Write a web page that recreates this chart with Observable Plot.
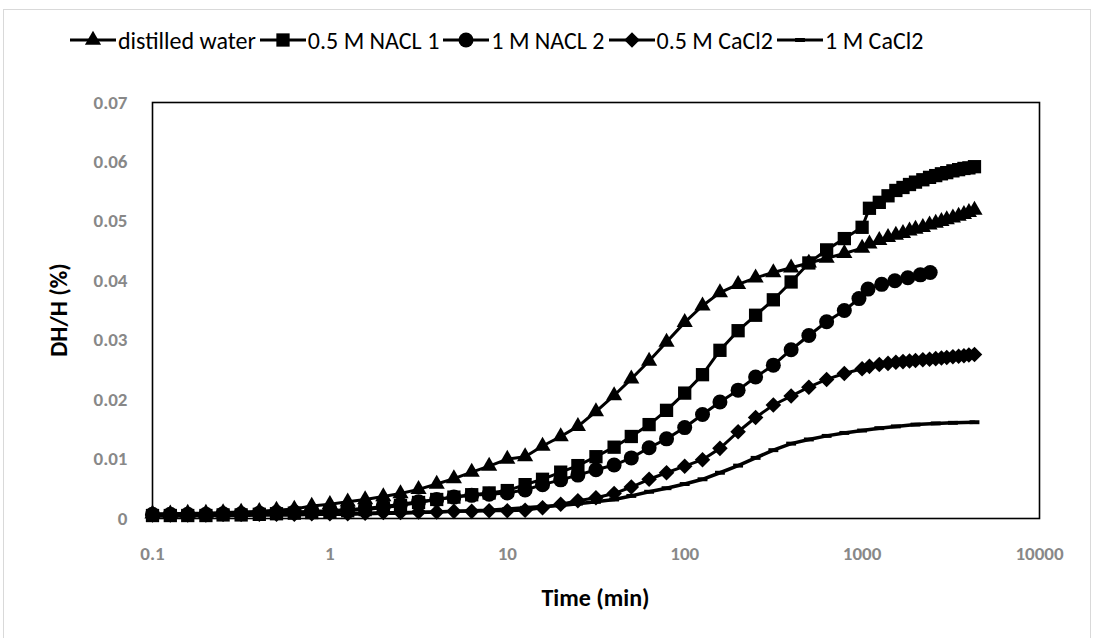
<!DOCTYPE html>
<html>
<head>
<meta charset="utf-8">
<script src="https://cdn.jsdelivr.net/npm/d3@7"></script>
<script src="https://cdn.jsdelivr.net/npm/@observablehq/plot@0.6"></script>
<style>
  body { margin: 0; background: #fff; }
  #wrap { position: relative; width: 1096px; height: 638px; background: #fff; overflow: hidden; font-family: Carlito, Calibri, Lato, sans-serif; }
  #border { position: absolute; left: 3px; top: 9px; width: 1088px; height: 640px; border: 1px solid #d9d9d9; box-sizing: border-box; }
  #legend { position: absolute; top: 26px; left: 70px; height: 28px; display: flex; align-items: center; font-size: 24px; color: #000; white-space: nowrap; }
  #legend .item { display: flex; align-items: center; margin-right: 4px; }
  #legend svg { display: block; margin-right: 2px; }
  #chart { position: absolute; top: 70px; left: 0; }
  #xtitle { position: absolute; top: 583px; left: 152px; width: 887px; text-align: center; font-weight: bold; font-size: 24px; color: #000; }
  #ytitle { position: absolute; left: 58px; top: 310px; transform: translate(-50%, -50%) rotate(-90deg); font-weight: bold; font-size: 24px; color: #000; white-space: nowrap; }
</style>
</head>
<body>
<div id="wrap">
  <div id="border"></div>
  <div id="legend"></div>
  <div id="chart"></div>
  <div id="xtitle">Time (min)</div>
  <div id="ytitle">DH/H (%)</div>
</div>
<script>
// ---- Data ----
const seriesNames = ["distilled water", "0.5 M NACL 1", "1 M NACL 2", "0.5 M CaCl2", "1 M CaCl2"];

const xTicks = [0.1, 1, 10, 100, 1000, 10000];
const xTickLabels = ["0.1", "1", "10", "100", "1000", "10000"];
const yTicks = [0, 0.01, 0.02, 0.03, 0.04, 0.05, 0.06, 0.07];
const yTickLabels = ["0", "0.01", "0.02", "0.03", "0.04", "0.05", "0.06", "0.07"];

const waterTime = [0.1,0.126,0.158,0.2,0.25,0.316,0.4,0.5,0.63,0.79,1,1.26,1.58,2,2.5,3.16,4,5,6.3,7.9,10,12.6,15.8,20,25,31.6,40,50,63,79,100,126,158,200,251,316,398,501,631,794,1000,1100,1250,1400,1550,1700,1850,2000,2200,2400,2600,2800,3000,3250,3500,3750,4000,4300];
const waterDH = [0.0008,0.0008,0.0009,0.0009,0.001,0.0011,0.0012,0.0014,0.0016,0.0021,0.0024,0.0028,0.0032,0.0037,0.0042,0.0049,0.0058,0.0067,0.0078,0.0088,0.01,0.0104,0.0122,0.0138,0.0155,0.018,0.0207,0.0235,0.0265,0.0297,0.033,0.0358,0.038,0.0394,0.0405,0.0414,0.0422,0.043,0.0438,0.0446,0.0455,0.0462,0.0468,0.0473,0.0477,0.048,0.0484,0.0487,0.049,0.0494,0.0497,0.05,0.0503,0.0506,0.0509,0.0512,0.0515,0.0519];

const nacl05Time = [0.1,0.126,0.158,0.2,0.25,0.316,0.4,0.5,0.63,0.79,1,1.26,1.58,2,2.5,3.16,4,5,6.3,7.9,10,12.6,15.8,20,25,31.6,40,50,63,79,100,126,158,200,251,316,398,501,631,794,1000,1100,1250,1400,1550,1700,1850,2000,2200,2400,2600,2800,3000,3250,3500,3750,4000,4300];
const nacl05DH = [0.0005,0.0005,0.0005,0.0005,0.0006,0.0006,0.0007,0.0008,0.0009,0.001,0.0011,0.0013,0.0015,0.0018,0.0022,0.0027,0.0032,0.0036,0.004,0.0043,0.0047,0.0057,0.0066,0.0078,0.0089,0.0104,0.012,0.0138,0.0158,0.0182,0.0211,0.0242,0.0283,0.0316,0.0342,0.0368,0.0398,0.043,0.0452,0.0471,0.049,0.0522,0.0532,0.0543,0.0552,0.0557,0.0562,0.0566,0.057,0.0574,0.0577,0.058,0.0582,0.0585,0.0587,0.0589,0.059,0.0592];

const nacl1Time = [0.1,0.126,0.158,0.2,0.25,0.316,0.4,0.5,0.63,0.79,1,1.26,1.58,2,2.5,3.16,4,5,6.3,7.9,10,12.6,15.8,20,25,31.6,40,50,63,79,100,126,158,200,251,316,398,501,631,794,960,1080,1290,1530,1810,2130,2420];
const nacl1DH = [0.0007,0.0007,0.0007,0.0007,0.0008,0.0008,0.0009,0.001,0.0011,0.0012,0.0013,0.0015,0.0017,0.002,0.0024,0.0028,0.0032,0.0036,0.0039,0.0041,0.0043,0.0048,0.0057,0.0065,0.0073,0.0082,0.009,0.0102,0.0119,0.0134,0.0153,0.0175,0.0196,0.0216,0.0238,0.0258,0.0284,0.0308,0.0331,0.035,0.037,0.0386,0.0394,0.04,0.0405,0.041,0.0414];

const cacl05Time = [0.1,0.126,0.158,0.2,0.25,0.316,0.4,0.5,0.63,0.79,1,1.26,1.58,2,2.5,3.16,4,5,6.3,7.9,10,12.6,15.8,20,25,31.6,40,50,63,79,100,126,158,200,251,316,398,501,631,794,1000,1100,1250,1400,1550,1700,1850,2000,2200,2400,2600,2800,3000,3250,3500,3750,4000,4300];
const cacl05DH = [0.0006,0.0006,0.0006,0.0006,0.0007,0.0007,0.0007,0.0007,0.0007,0.0008,0.0008,0.0008,0.0009,0.001,0.001,0.0011,0.0011,0.0012,0.0012,0.0013,0.0013,0.0014,0.0018,0.0024,0.003,0.0035,0.0042,0.0053,0.0066,0.0077,0.0088,0.0099,0.0118,0.0146,0.017,0.0191,0.0206,0.0221,0.0234,0.0244,0.0252,0.0256,0.0259,0.0261,0.0263,0.0264,0.0265,0.0266,0.0267,0.0268,0.0269,0.027,0.0271,0.0272,0.0273,0.0274,0.0275,0.0276];

const cacl1Time = [0.1,0.126,0.158,0.2,0.25,0.316,0.4,0.5,0.63,0.79,1,1.26,1.58,2,2.5,3.16,4,5,6.3,7.9,10,12.6,15.8,20,25,31.6,40,50,63,79,100,126,158,200,251,316,398,501,631,794,1000,1250,1550,2000,2600,3250,4300];
const cacl1DH = [0.0004,0.0004,0.0004,0.0005,0.0005,0.0005,0.0006,0.0006,0.0006,0.0007,0.0007,0.0007,0.0008,0.0009,0.0009,0.001,0.0011,0.0012,0.0013,0.0014,0.0016,0.0018,0.002,0.0022,0.0025,0.0028,0.0032,0.0038,0.0045,0.0051,0.0058,0.0066,0.0077,0.0089,0.0102,0.0115,0.0126,0.0133,0.0139,0.0144,0.0148,0.0152,0.0155,0.0158,0.016,0.0161,0.0162];

// ---- Build table ----
const dashSymbol = { draw(ctx, size) { const r = Math.sqrt(size / Math.PI); ctx.rect(-r * 1.5, -r * 0.6, r * 3, r * 1.2); } };
const symbols = [d3.symbolTriangle, d3.symbolSquare, d3.symbolCircle, d3.symbolDiamond2, dashSymbol];
const radii = [6, 7.5, 7.5, 7, 3.3];
const times = [waterTime, nacl05Time, nacl1Time, cacl05Time, cacl1Time];
const values = [waterDH, nacl05DH, nacl1DH, cacl05DH, cacl1DH];

const series = seriesNames.map((name, k) => ({
  name, symbol: symbols[k], r: radii[k],
  data: times[k].map((t, i) => ({ t, v: values[k][i], name }))
}));

const marks = [
  Plot.axisX({ ticks: xTicks, tickSize: 0, tickPadding: 28, tickFormat: (d) => xTickLabels[xTicks.indexOf(d)], label: null }),
  Plot.axisY({ ticks: yTicks, tickSize: 0, tickPadding: 25, tickFormat: (d) => yTickLabels[yTicks.indexOf(d)], label: null }),
  Plot.frame({ stroke: "black", strokeWidth: 1.6 })
];
for (const s of series) {
  marks.push(Plot.line(s.data, { x: "t", y: "v", stroke: "black", strokeWidth: s.name === "1 M CaCl2" ? 3.5 : 3 }));
  marks.push(Plot.dot(s.data, { x: "t", y: "v", symbol: () => s.symbol, r: s.r, fill: "black", stroke: "none" }));
}

const chart = Plot.plot({
  width: 1096, height: 568,
  marginLeft: 152, marginRight: 57, marginTop: 32, marginBottom: 120,
  x: { type: "log", domain: [0.1, 10000] },
  y: { domain: [0, 0.07] },
  symbol: { type: "identity" },
  style: { fontFamily: "Carlito, Calibri, Lato, sans-serif", fontSize: "19px", fontWeight: "bold", color: "#888888", background: "transparent", overflow: "visible" },
  marks
});
document.getElementById("chart").appendChild(chart);

// ---- Legend ----
const legend = document.getElementById("legend");
series.forEach((s) => {
  const item = document.createElement("div");
  item.className = "item";
  const w = 46, h = 22;
  const svg = d3.create("svg").attr("width", w).attr("height", h);
  svg.append("line").attr("x1", 0).attr("x2", w).attr("y1", h / 2).attr("y2", h / 2).attr("stroke", "black").attr("stroke-width", 3);
  svg.append("path").attr("transform", `translate(${w / 2},${h / 2})`)
    .attr("d", d3.symbol(s.symbol, s.r * s.r * Math.PI)()).attr("fill", "black");
  item.appendChild(svg.node());
  const span = document.createElement("span");
  span.textContent = s.name;
  item.appendChild(span);
  legend.appendChild(item);
});
</script>
</body>
</html>
